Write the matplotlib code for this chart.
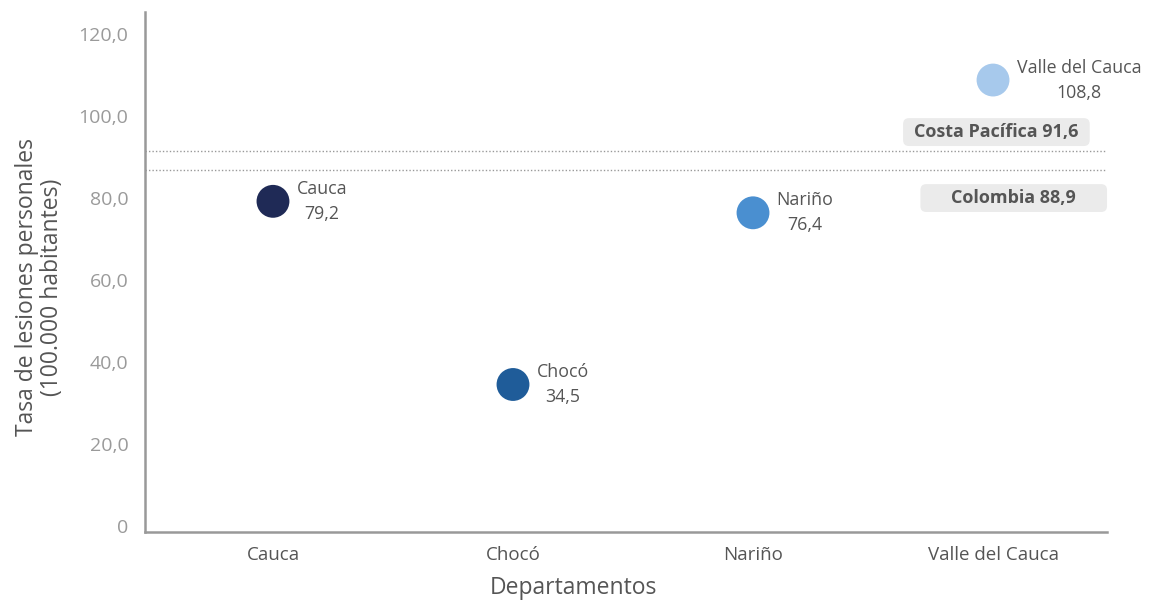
import matplotlib.pyplot as plt
from matplotlib.patches import FancyBboxPatch
from matplotlib.ticker import FuncFormatter

plt.rcParams['font.family'] = ['Open Sans', 'DejaVu Sans']

# Data
departamentos = ['Cauca', 'Chocó', 'Nariño', 'Valle del Cauca']
tasas = [79.2, 34.5, 76.4, 108.8]
colores = ['#1f2a56', '#1f5c99', '#4a8fd0', '#a7c9ec']

ref_labels = ['Costa Pacífica 91,6', 'Colombia 88,9']
ref_lines = [91.6, 86.8]

dark_text = '#555555'
light_text = '#9a9a9a'
axis_gray = '#999999'

fig = plt.figure(figsize=(11.54, 6.01), dpi=100)
ax = fig.add_axes([0.1257, 0.1148, 0.8336, 0.8652])

x = list(range(len(departamentos)))
ax.scatter(x, tasas, s=560, c=colores, zorder=3, linewidths=0)

# Point labels
for xi, name, val in zip(x, departamentos, tasas):
    ax.annotate(f'{name}\n{val:.1f}'.replace('.', ','), xy=(xi, val),
                xytext=(17, 0), textcoords='offset points',
                ha='left', va='center', multialignment='center',
                fontsize=12.8, color=dark_text, linespacing=1.5)

# Reference lines
for yv in ref_lines:
    ax.axhline(yv, color=axis_gray, linestyle=(0, (1, 1.5)), linewidth=1, zorder=1)

# Reference label boxes (x in axes fraction, y in data units)
tr = ax.get_yaxis_transform()
boxes = [(0.788, 92.7, 0.194, 6.8), (0.806, 76.6, 0.194, 6.8)]
for (bx, by, bw, bh), lab in zip(boxes, ref_labels):
    ax.add_patch(FancyBboxPatch((bx, by), bw, bh, transform=tr,
                                boxstyle='round,pad=0,rounding_size=0.006',
                                mutation_aspect=240,
                                facecolor='#ebebeb', edgecolor='none',
                                clip_on=False, zorder=2))
    ax.text(bx + bw / 2, by + bh / 2, lab, transform=tr, ha='center', va='center',
            fontsize=13, fontweight='bold', color=dark_text, zorder=3)

ax.set_xlim(-0.533, 3.475)
ax.set_ylim(-1.5, 125.4)
ax.set_xticks(x)
ax.set_xticklabels(departamentos, fontsize=13.5, color=dark_text)
ax.set_yticks([0, 20, 40, 60, 80, 100, 120])
ax.yaxis.set_major_formatter(FuncFormatter(
    lambda v, p: '0' if v == 0 else f'{v:.1f}'.replace('.', ',')))
ax.tick_params(axis='y', labelsize=14, labelcolor=light_text, length=0, pad=12)
ax.tick_params(axis='x', length=0, pad=10)

for s in ['top', 'right']:
    ax.spines[s].set_visible(False)
for s in ['left', 'bottom']:
    ax.spines[s].set_color(axis_gray)
    ax.spines[s].set_linewidth(1.8)

ax.set_xlabel('Departamentos', fontsize=16.5, color=dark_text)
ax.set_ylabel('Tasa de lesiones personales\n(100.000 habitantes)', fontsize=16.5,
              color=dark_text, linespacing=1.05)
ax.xaxis.set_label_coords(0.445, -0.085)
ax.yaxis.set_label_coords(-0.084, 0.471)

fig.savefig('out.png', dpi=100)
